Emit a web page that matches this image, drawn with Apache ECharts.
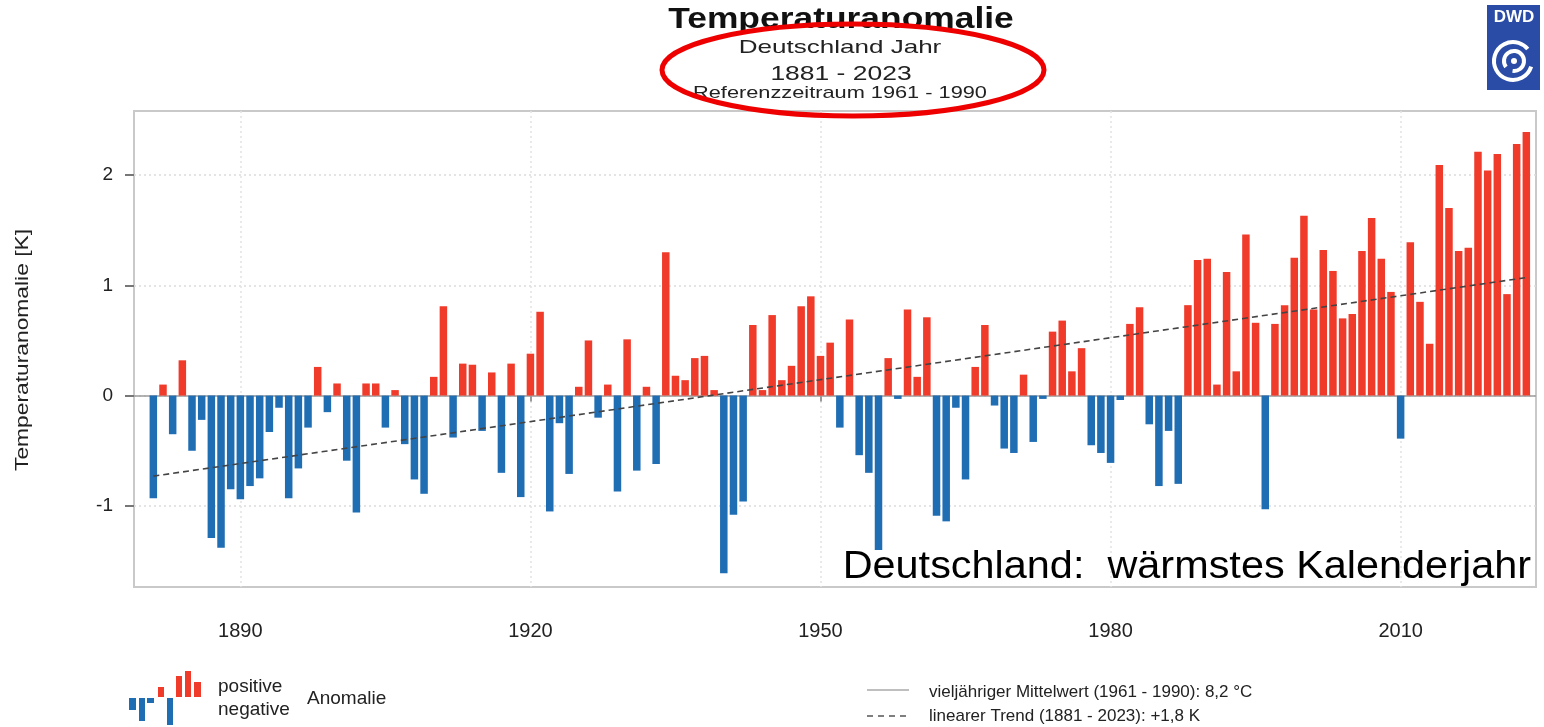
<!DOCTYPE html>
<html>
<head>
<meta charset="utf-8">
<script src="https://cdn.jsdelivr.net/npm/echarts@6/dist/echarts.min.js"></script>
<style>
  html, body { margin: 0; padding: 0; background: #fff; }
  #main { width: 1544px; height: 727px; }
</style>
</head>
<body>
<div id="main"></div>
<script>
// Temperaturanomalie Deutschland, Jahr 1881 - 2023
var firstYear = 1881
var anomalies = [
  -0.93, 0.10, -0.35, 0.32, -0.50, -0.22, -1.29, -1.38, -0.85, -0.94,
  -0.82, -0.75, -0.33, -0.11, -0.93, -0.66, -0.29, 0.26, -0.15, 0.11,
  -0.59, -1.06, 0.11, 0.11, -0.29, 0.05, -0.44, -0.76, -0.89, 0.17,
  0.81, -0.38, 0.29, 0.28, -0.32, 0.21, -0.70, 0.29, -0.92, 0.38,
  0.76, -1.05, -0.25, -0.71, 0.08, 0.50, -0.20, 0.10, -0.87, 0.51,
  -0.68, 0.08, -0.62, 1.30, 0.18, 0.14, 0.34, 0.36, 0.05, -1.61,
  -1.08, -0.96, 0.64, 0.05, 0.73, 0.14, 0.27, 0.81, 0.90, 0.36,
  0.48, -0.29, 0.69, -0.54, -0.70, -1.40, 0.34, -0.03, 0.78, 0.17,
  0.71, -1.09, -1.14, -0.11, -0.76, 0.26, 0.64, -0.09, -0.48, -0.52,
  0.19, -0.42, -0.03, 0.58, 0.68, 0.22, 0.43, -0.45, -0.52, -0.61,
  -0.04, 0.65, 0.80, -0.26, -0.82, -0.32, -0.80, 0.82, 1.23, 1.24,
  0.10, 1.12, 0.22, 1.46, 0.66, -1.03, 0.65, 0.82, 1.25, 1.63,
  0.78, 1.32, 1.13, 0.70, 0.74, 1.31, 1.61, 1.24, 0.94, -0.39,
  1.39, 0.85, 0.47, 2.09, 1.70, 1.31, 1.34, 2.21, 2.04, 2.19,
  0.92, 2.28, 2.39
]
// linearer Trend, Anfangs- und Endpunkt
var trendYears = [1881, 2023]
var trendValues = [-0.73, 1.07]
var yearTicks = [1890, 1920, 1950, 1980, 2010]
var anomalyTicks = [-1, 0, 1, 2]

var barData = anomalies.map(function (v, i) {
  return [firstYear + i, v]
})
var trendData = trendYears.map(function (y, i) {
  return [y, trendValues[i]]
})

var red = '#f03b2b'
var blue = '#1f6db3'
var font = 'Liberation Sans'

var chart = echarts.init(document.getElementById('main'))

// kleine Hilfsfunktion fuer Texte im graphic-Bereich
function label(text, x, y, size, opts) {
  opts = opts || {}
  return {
    type: 'text',
    x: x,
    y: y,
    scaleX: opts.scaleX || 1,
    rotation: opts.rotation || 0,
    z: 10,
    style: {
      text: text,
      fontFamily: font,
      fontSize: size,
      fontWeight: opts.bold ? 'bold' : 'normal',
      fill: opts.color || '#222',
      align: opts.align || 'left',
      verticalAlign: 'middle'
    }
  }
}

var option = {
  backgroundColor: '#fff',
  animation: false,
  textStyle: { fontFamily: font },
  grid: {
    left: 134,
    right: 8,
    top: 111,
    bottom: 140,
    show: true,
    borderColor: '#c9c9c9',
    borderWidth: 2,
    backgroundColor: '#fff'
  },
  xAxis: {
    type: 'value',
    min: 1879,
    max: 2024,
    axisLine: { show: false },
    axisTick: {
      customValues: yearTicks,
      length: 6,
      lineStyle: { color: '#999', width: 2 }
    },
    axisLabel: {
      customValues: yearTicks,
      color: '#222',
      fontSize: 20,
      margin: 34,
      fontFamily: font,
      formatter: function (v) { return String(v) }
    },
    splitLine: {
      show: true,
      lineStyle: { color: '#e2e2e2', type: [2, 3], width: 1.5 }
    }
  },
  yAxis: {
    type: 'value',
    min: -1.735,
    max: 2.58,
    axisLine: { show: false },
    axisTick: {
      customValues: anomalyTicks,
      length: 9,
      lineStyle: { color: '#777', width: 2 }
    },
    axisLabel: {
      customValues: anomalyTicks,
      color: '#222',
      fontSize: 19,
      margin: 21,
      fontFamily: font
    },
    splitLine: {
      show: true,
      lineStyle: { color: '#dcdcdc', type: [2, 3], width: 1.5 }
    }
  },
  series: [
    {
      type: 'bar',
      data: barData,
      barWidth: 7.5,
      itemStyle: {
        color: function (p) {
          return p.value[1] >= 0 ? red : blue
        }
      },
      markLine: {
        silent: true,
        symbol: 'none',
        label: { show: false },
        lineStyle: { color: '#9a9a9a', type: 'solid', width: 1.5 },
        data: [{ yAxis: 0 }],
        z: 1
      }
    },
    {
      type: 'line',
      data: trendData,
      symbol: 'none',
      z: 5,
      lineStyle: { color: '#444', width: 1.6, type: [6, 4] }
    }
  ],
  graphic: [
    // Titel
    label('Temperaturanomalie', 841, 20, 30, { bold: true, align: 'center', scaleX: 1.18, color: '#111' }),
    label('Deutschland Jahr', 840, 48, 19, { align: 'center', scaleX: 1.37 }),
    label('1881 - 2023', 841, 74, 21, { align: 'center', scaleX: 1.26 }),
    label('Referenzzeitraum 1961 - 1990', 840, 93, 17, { align: 'center', scaleX: 1.28 }),
    // rote Markierung
    { type: 'ellipse', shape: { cx: 853, cy: 70, rx: 191, ry: 46 }, style: { fill: 'none', stroke: '#ee0000', lineWidth: 5 }, z: 20 },
    // DWD Logo
    { type: 'rect', shape: { x: 1487, y: 5, width: 53, height: 85 }, style: { fill: '#2a4ca6' } },
    label('DWD', 1514, 17, 17, { bold: true, align: 'center', color: '#fff' }),
    { type: 'arc', shape: { cx: 1513, cy: 61, r: 19, startAngle: 0.3, endAngle: 5.6 }, style: { stroke: '#fff', lineWidth: 4, fill: 'none' } },
    { type: 'arc', shape: { cx: 1514, cy: 61, r: 10, startAngle: 2.5, endAngle: 8.0 }, style: { stroke: '#fff', lineWidth: 4, fill: 'none' } },
    { type: 'circle', shape: { cx: 1514, cy: 61, r: 3 }, style: { fill: '#fff' } },
    // Achsentitel
    label('Temperaturanomalie [K]', 23, 350, 19, { align: 'center', rotation: Math.PI / 2, scaleX: 1.2 }),
    // Hinweis
    label('Deutschland:  wärmstes Kalenderjahr', 1531, 568, 38, { align: 'right', scaleX: 1.09, color: '#000' }),
    // Legende links
    { type: 'rect', shape: { x: 129, y: 698, width: 7, height: 12 }, style: { fill: blue } },
    { type: 'rect', shape: { x: 139, y: 698, width: 6, height: 23 }, style: { fill: blue } },
    { type: 'rect', shape: { x: 147, y: 698, width: 7, height: 5 }, style: { fill: blue } },
    { type: 'rect', shape: { x: 158, y: 687, width: 6, height: 10 }, style: { fill: red } },
    { type: 'rect', shape: { x: 167, y: 698, width: 6, height: 27 }, style: { fill: blue } },
    { type: 'rect', shape: { x: 176, y: 676, width: 6, height: 21 }, style: { fill: red } },
    { type: 'rect', shape: { x: 185, y: 671, width: 6, height: 26 }, style: { fill: red } },
    { type: 'rect', shape: { x: 194, y: 682, width: 7, height: 15 }, style: { fill: red } },
    label('positive', 218, 687, 19),
    label('negative', 218, 710, 19),
    label('Anomalie', 307, 699, 19),
    // Legende rechts
    { type: 'line', shape: { x1: 867, y1: 690, x2: 909, y2: 690 }, style: { stroke: '#aaa', lineWidth: 1.5 } },
    { type: 'line', shape: { x1: 867, y1: 716, x2: 909, y2: 716 }, style: { stroke: '#555', lineWidth: 1.5, lineDash: [6, 5] } },
    label('vieljähriger Mittelwert (1961 - 1990): 8,2 °C', 929, 692, 17),
    label('linearer Trend (1881 - 2023): +1,8 K', 929, 716, 17)
  ]
}

chart.setOption(option)
</script>
</body>
</html>
